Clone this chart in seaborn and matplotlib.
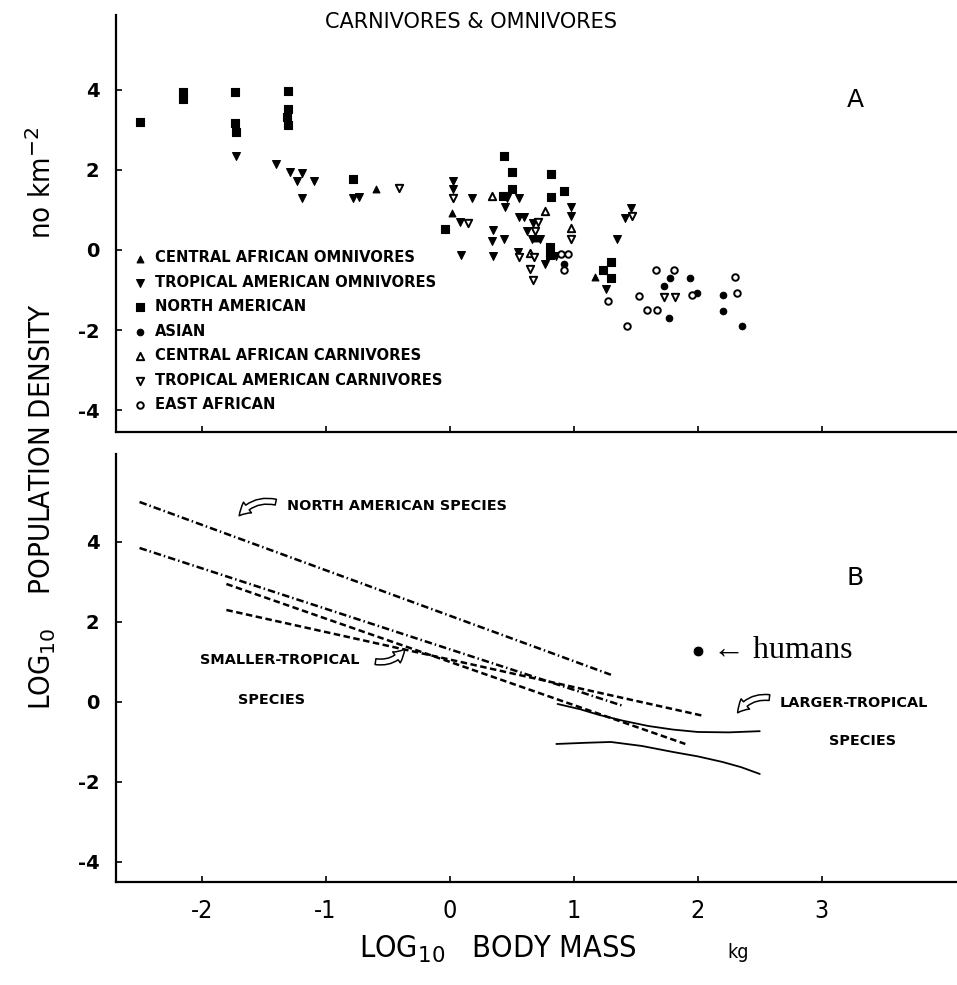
import matplotlib
matplotlib.use("Agg")
import matplotlib.pyplot as plt
import seaborn as sns
import pandas as pd

sns.set_theme(style="ticks")
plt.rcParams['font.family'] = ['DejaVu Sans']
plt.rcParams['mathtext.fontset'] = 'dejavusans'
for k in ("text.color", "axes.edgecolor", "xtick.color", "ytick.color", "axes.labelcolor"):
    plt.rcParams[k] = "black"

COND = dict(family=['DejaVu Sans'], stretch='condensed')

# ---------------- Panel A data (log10 body mass kg, log10 density) ----------------
na_x = [-2.5, -2.15, -2.15, -1.73, -1.73, -1.72, -1.3, -1.3, -1.31, -1.3, -0.78, -0.04,
        0.44, 0.5, 0.82, 0.92, 0.5, 0.43, 0.82, 0.81, 0.81, 1.3, 1.24, 1.3]
na_y = [3.2, 3.95, 3.78, 3.95, 3.18, 2.95, 3.98, 3.53, 3.33, 3.13, 1.78, 0.53,
        2.35, 1.95, 1.9, 1.48, 1.53, 1.35, 1.33, 0.08, -0.13, -0.3, -0.5, -0.7]

tao_x = [-1.72, -1.40, -1.29, -1.19, -1.23, -1.09, -1.19, -0.78, -0.73, 0.03, 0.03, 0.18,
         0.08, 0.09, 0.35, 0.34, 0.35, 0.44, 0.46, 0.56, 0.45, 0.56, 0.6, 0.67, 0.62,
         0.55, 0.77, 0.86, 0.98, 0.98, 1.46, 1.41, 1.35, 1.26, 0.66, 0.73]
tao_y = [2.35, 2.15, 1.95, 1.93, 1.73, 1.73, 1.3, 1.3, 1.33, 1.73, 1.53, 1.3,
         0.7, -0.13, 0.5, 0.23, -0.15, 0.28, 1.3, 1.3, 1.08, 0.83, 0.83, 0.68, 0.48,
         -0.05, -0.35, -0.15, 1.08, 0.85, 1.05, 0.8, 0.28, -0.98, 0.28, 0.28]

cao_x = [-0.59, 0.02, 0.7, 1.17]
cao_y = [1.53, 0.93, 0.3, -0.68]

cac_x = [0.34, 0.77, 0.98, 0.65]
cac_y = [1.35, 0.98, 0.55, -0.08]

tac_x = [-0.41, 0.03, 0.15, 0.71, 0.69, 0.98, 1.47, 0.68, 0.65, 0.67, 1.73, 1.82, 0.56]
tac_y = [1.55, 1.3, 0.68, 0.7, 0.48, 0.28, 0.85, -0.17, -0.48, -0.75, -1.17, -1.17, -0.18]

asian_x = [0.92, 1.78, 1.94, 1.73, 1.99, 2.2, 2.2, 2.36, 1.77]
asian_y = [-0.35, -0.7, -0.7, -0.9, -1.07, -1.13, -1.52, -1.9, -1.7]

ea_x = [0.92, 1.66, 1.81, 1.53, 1.43, 1.95, 2.3, 2.32, 0.9, 0.95, 1.28, 1.59, 1.67]
ea_y = [-0.5, -0.5, -0.5, -1.15, -1.9, -1.12, -0.67, -1.07, -0.1, -0.1, -1.28, -1.5, -1.5]

group_names = ["CENTRAL AFRICAN OMNIVORES", "TROPICAL AMERICAN OMNIVORES", "NORTH AMERICAN",
               "ASIAN", "CENTRAL AFRICAN CARNIVORES", "TROPICAL AMERICAN CARNIVORES",
               "EAST AFRICAN"]

# ---------------- Panel B data (regression lines) ----------------
na_line_x = [-2.5, 1.3]
na_line_y = [5.0, 0.68]
dd_line_x = [-2.5, 1.4]
dd_line_y = [3.85, -0.1]
dash_a_x = [-1.8, 2.05]
dash_a_y = [2.3, -0.35]
dash_b_x = [-1.8, 1.9]
dash_b_y = [2.95, -1.05]
solid_up_x = [0.87, 1.05, 1.2, 1.4, 1.6, 1.8, 2.0, 2.25, 2.5]
solid_up_y = [-0.05, -0.18, -0.32, -0.47, -0.6, -0.69, -0.75, -0.76, -0.73]
solid_lo_x = [0.86, 1.1, 1.3, 1.55, 1.8, 2.0, 2.2, 2.35, 2.5]
solid_lo_y = [-1.05, -1.02, -1.0, -1.1, -1.25, -1.36, -1.5, -1.63, -1.8]
humans_x = [2.0]
humans_y = [1.28]

dfA = pd.DataFrame({
    "x": cao_x + tao_x + na_x + asian_x + cac_x + tac_x + ea_x,
    "y": cao_y + tao_y + na_y + asian_y + cac_y + tac_y + ea_y,
    "group": ([group_names[0]] * len(cao_x) + [group_names[1]] * len(tao_x) +
              [group_names[2]] * len(na_x) + [group_names[3]] * len(asian_x) +
              [group_names[4]] * len(cac_x) + [group_names[5]] * len(tac_x) +
              [group_names[6]] * len(ea_x)),
})

styles = {
    group_names[0]: dict(marker="^", s=24, facecolor="black", edgecolor="black", linewidth=0.8),
    group_names[1]: dict(marker="v", s=32, facecolor="black", edgecolor="black", linewidth=0.8),
    group_names[2]: dict(marker="s", s=34, facecolor="black", edgecolor="black", linewidth=0.8),
    group_names[3]: dict(marker="o", s=22, facecolor="black", edgecolor="black", linewidth=0.8),
    group_names[4]: dict(marker="^", s=28, facecolor="white", edgecolor="black", linewidth=1.4),
    group_names[5]: dict(marker="v", s=28, facecolor="white", edgecolor="black", linewidth=1.4),
    group_names[6]: dict(marker="o", s=22, facecolor="white", edgecolor="black", linewidth=1.4),
}

fig = plt.figure(figsize=(9.57, 9.85), dpi=100)
axA = fig.add_axes([0.1212, 0.5614, 0.8788, 0.4234])
axB = fig.add_axes([0.1212, 0.1046, 0.8788, 0.4345])

XLIM = (-2.69, 4.09)

for g in group_names:
    sub = dfA[dfA["group"] == g]
    sns.scatterplot(data=sub, x="x", y="y", ax=axA, color="black", label=g, zorder=3, **styles[g])

leg = axA.legend(loc="lower left", bbox_to_anchor=(0.01, 0.027), frameon=False,
                 handlelength=0.9, handletextpad=0.55, labelspacing=0.64, borderaxespad=0.2,
                 prop=dict(family="DejaVu Sans", weight="bold", size=10.6))

axA.text(3.27, 3.75, "A", fontsize=18, ha="center", va="center")

# Panel B lines
lw_dd = 1.8
sns.lineplot(x=na_line_x, y=na_line_y, ax=axB, color="black", lw=lw_dd,
             linestyle=(0, (3.0, 1.2, 0.6, 1.2)))
sns.lineplot(x=dd_line_x, y=dd_line_y, ax=axB, color="black", lw=lw_dd,
             linestyle=(0, (3.0, 1.2, 0.6, 1.2)))
sns.lineplot(x=dash_a_x, y=dash_a_y, ax=axB, color="black", lw=lw_dd,
             linestyle=(0, (2.6, 1.4)))
sns.lineplot(x=dash_b_x, y=dash_b_y, ax=axB, color="black", lw=lw_dd,
             linestyle=(0, (2.6, 1.4)))
sns.lineplot(x=solid_up_x, y=solid_up_y, ax=axB, color="black", lw=1.3, sort=False)
sns.lineplot(x=solid_lo_x, y=solid_lo_y, ax=axB, color="black", lw=1.3, sort=False)
sns.scatterplot(x=humans_x, y=humans_y, ax=axB, color="black", marker="o", s=60, zorder=4)

small = dict(family="DejaVu Sans", weight="bold", fontsize=10.4)
axB.text(-1.31, 4.9, "NORTH AMERICAN SPECIES", ha="left", va="center", **small)
axB.text(-1.37, 1.05, "SMALLER-TROPICAL", ha="center", va="center", **small)
axB.text(-1.44, 0.05, "SPECIES", ha="center", va="center", **small)
axB.text(2.66, -0.03, "LARGER-TROPICAL", ha="left", va="center", **small)
axB.text(3.33, -0.98, "SPECIES", ha="center", va="center", **small)
axB.text(2.12, 1.28, "\u2190 humans", ha="left", va="center", fontsize=23,
         family=["Liberation Serif", "DejaVu Serif"])
axB.text(3.27, 3.1, "B", fontsize=18, ha="center", va="center")

arrow = dict(arrowstyle="simple,head_length=0.7,head_width=0.8,tail_width=0.35",
             fc="white", ec="black", lw=1.1)
axB.annotate("", xy=(-1.71, 4.6), xytext=(-1.38, 4.98),
             arrowprops=dict(connectionstyle="arc3,rad=0.35", **arrow))
axB.annotate("", xy=(-0.35, 1.38), xytext=(-0.62, 1.02),
             arrowprops=dict(connectionstyle="arc3,rad=0.35", **arrow))
axB.annotate("", xy=(2.31, -0.33), xytext=(2.6, 0.1),
             arrowprops=dict(connectionstyle="arc3,rad=0.35", **arrow))

for ax, ylim in ((axA, (-4.55, 5.875)), (axB, (-4.5, 6.2))):
    ax.set_xlim(*XLIM)
    ax.set_ylim(*ylim)
    ax.set_xticks([-2, -1, 0, 1, 2, 3])
    ax.set_yticks([-4, -2, 0, 2, 4])
    ax.set_yticklabels(["-4", "-2", "0", "2", "4"])
    ax.set_xlabel("")
    ax.set_ylabel("")
    sns.despine(ax=ax)
    for sp in ("left", "bottom"):
        ax.spines[sp].set_linewidth(1.6)
    ax.tick_params(direction="in", length=4, width=1.2, labelsize=14, pad=12)
    for lab in ax.get_yticklabels():
        lab.set_fontweight("bold")

axA.tick_params(labelbottom=False)
axB.set_xticklabels(["-2", "-1", "0", "1", "2", "3"], fontsize=18, **COND)
axB.tick_params(axis="x", pad=12)

fig.text(0.492, 0.978, "CARNIVORES & OMNIVORES", ha="center", va="center", fontsize=15)
fig.text(0.52, 0.036, r"LOG$_{10}$   BODY MASS", ha="center", va="center", fontsize=22, **COND)
fig.text(0.771, 0.033, "kg", ha="center", va="center", fontsize=14, **COND)
fig.text(0.042, 0.575, r"LOG$_{10}$    POPULATION DENSITY        no km$^{-2}$", ha="center",
         va="center", rotation=90, fontsize=21, **COND)

fig.savefig("out.png", dpi=100)
